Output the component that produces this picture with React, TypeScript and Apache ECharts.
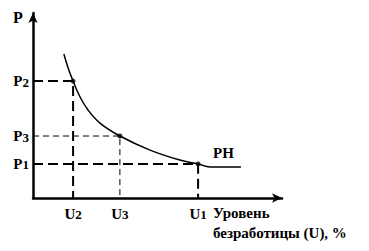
import React, { useEffect, useRef } from "react";
import * as echarts from "echarts";

const curveX = [12.4, 14.1, 16.1, 18.9, 22.1, 26.9, 34.9, 47.0, 59.0, 66.3, 71.1, 83.5];
const curveY = [77.8, 70.3, 63.2, 54.6, 47.6, 40.5, 33.5, 25.9, 20.5, 18.4, 16.8, 16.8];

const pointNames = ["1", "2", "3"];
const uValues = [66.3, 16.1, 34.9];
const pValues = [18.4, 63.2, 33.5];
const guideWidths = [2, 2, 1];
const guideDash = [[10, 5], [10, 5], [6, 4]];

const curveName = "PH";
const xTitle = "Уровень\nбезработицы (U), %";
const yTitle = "P";

const FONT = "Liberation Serif";

export default function App() {
  const ref = useRef<HTMLDivElement>(null);
  useEffect(() => {
    if (!ref.current) return;
    const chart = echarts.init(ref.current, null, { renderer: "svg" });
    const labelRich = {
      a: { fontFamily: FONT, fontWeight: "bold", fontSize: 15, color: "#000", verticalAlign: "bottom" },
      b: { fontFamily: FONT, fontWeight: "bold", fontSize: 13, color: "#000", verticalAlign: "bottom" },
    };
    const guides = pointNames.map((n, i) => ({
      type: "line",
      data: [
        [0, pValues[i]],
        [uValues[i], pValues[i]],
        [uValues[i], 0],
      ],
      symbol: "none",
      silent: true,
      lineStyle: { color: "#000", width: guideWidths[i], type: guideDash[i] },
      z: 1,
    }));
    const textStyle = (size: number) => ({
      fontFamily: FONT,
      fontWeight: "bold",
      fontSize: size,
      fill: "#000",
    });
    chart.setOption({
      animation: false,
      grid: { left: 33, right: 87, top: 13, bottom: 53 },
      xAxis: {
        type: "value",
        min: 0,
        max: 100,
        splitLine: { show: false },
        axisLine: { lineStyle: { color: "#000", width: 2.5 }, symbol: ["none", "arrow"], symbolSize: [7, 10] },
        axisTick: { show: false },
        axisLabel: {
          customValues: uValues,
          margin: 8,
          formatter: (v: number) => {
            const i = uValues.findIndex((u) => Math.abs(u - v) < 0.01);
            return "{a|U}{b|" + pointNames[i] + "}";
          },
          rich: labelRich,
        },
      },
      yAxis: {
        type: "value",
        min: 0,
        max: 100,
        splitLine: { show: false },
        axisLine: { lineStyle: { color: "#000", width: 2.5 }, symbol: ["none", "arrow"], symbolSize: [7, 10] },
        axisTick: { show: false },
        axisLabel: {
          customValues: pValues,
          margin: 4,
          formatter: (v: number) => {
            const i = pValues.findIndex((p) => Math.abs(p - v) < 0.01);
            return "{a|P}{b|" + pointNames[i] + "}";
          },
          rich: labelRich,
        },
      },
      series: [
        ...guides,
        {
          type: "line",
          name: curveName,
          data: curveX.map((x, i) => [x, curveY[i]]),
          smooth: 0.4,
          symbol: "none",
          lineStyle: { color: "#000", width: 1.5 },
          z: 3,
        },
        {
          type: "scatter",
          data: uValues.map((u, i) => [u, pValues[i]]),
          symbolSize: 5,
          itemStyle: { color: "#000" },
          z: 4,
        },
      ],
      graphic: [
        {
          type: "text",
          left: 13,
          top: 9,
          style: { text: yTitle, ...textStyle(16) },
        },
        {
          type: "text",
          left: 213,
          top: 145,
          style: { text: curveName, ...textStyle(15) },
        },
        {
          type: "text",
          left: 213,
          top: 203,
          style: { text: xTitle, ...textStyle(15), lineHeight: 20 },
        },
      ],
    });
    return () => chart.dispose();
  }, []);
  return <div ref={ref} style={{ width: 369, height: 251, position: "absolute", left: 0, top: 0, background: "#fff" }} />;
}
